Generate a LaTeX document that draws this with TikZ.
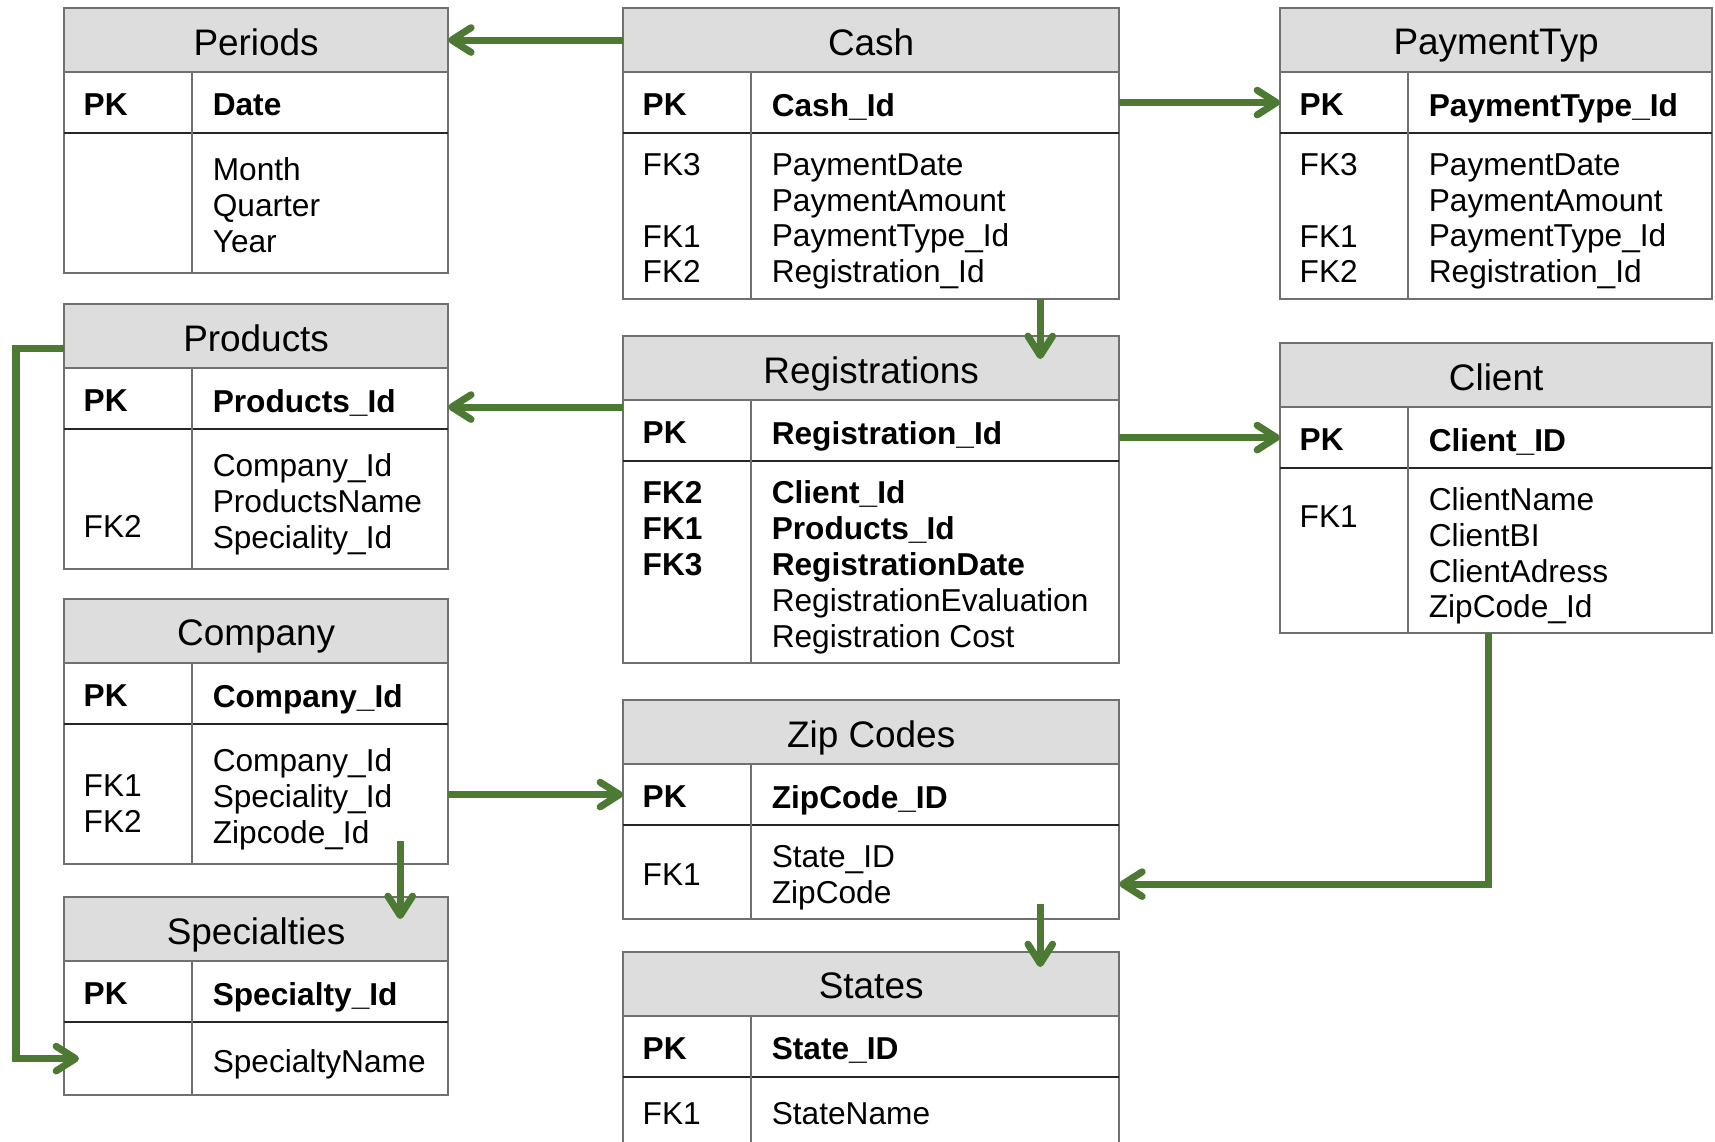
\documentclass[tikz,border=0pt]{standalone}
\usepackage{fontspec}
\setmainfont{Liberation Sans}
\usetikzlibrary{arrows.meta}
\definecolor{linkgreen}{RGB}{76,122,51}
\definecolor{hdrgray}{RGB}{221,221,221}
\definecolor{framegray}{RGB}{112,112,112}
\newcommand\tabfont{\fontsize{9}{10.2}\selectfont}
\newcommand\hdrfont{\fontsize{10.5}{12.6}\selectfont}
% #1 name, #2 top left corner, #3 width, #4 body height, #5 title,
% #6 key field, #7 key column, #8 field column
\newcommand\ertab[8]{%
    \node[hdr, minimum width=#3] (#1) at (#2) {};
    \node[txt, anchor=center, font=\hdrfont] (#1t) at (#1.center) {#5};
    \node[row, minimum width=#3, minimum height=0.61cm] (#1pk) at (#1.south west) {};
    \node[row, minimum width=#3, minimum height=#4] (#1bd) at (#1pk.south west) {};
    \draw[sep] (#1pk.south west) -- (#1pk.south east);
    \draw[frame] ([xshift=1.28cm]#1.south west) -- ([xshift=1.28cm]#1bd.south west);
    \node[txt, font=\tabfont\bfseries] (#1k1) at ([xshift=0.19cm]#1pk.west) {PK};
    \node[txt, font=\tabfont\bfseries] (#1f1) at ([xshift=1.48cm]#1pk.west) {#6};
    \node[txt] (#1k2) at ([xshift=0.19cm]#1bd.west) {#7};
    \node[txt] (#1f2) at ([xshift=1.48cm]#1bd.west) {#8};
}

\begin{document}
\begin{tikzpicture}[x=0.01cm, y=-0.01cm,
        frame/.style={draw=framegray, line width=0.6pt},
        sep/.style={draw=black!85, line width=0.6pt},
        row/.style={frame, fill=white, anchor=north west, inner sep=0pt, outer sep=0pt},
        hdr/.style={row, fill=hdrgray, minimum height=0.64cm},
        txt/.style={anchor=west, align=left, inner sep=0pt, font=\tabfont, yshift=-0.02cm,
            text depth=0pt, execute at begin node=\vphantom{H}},
        link/.style={draw=linkgreen, line width=2pt, -{Straight Barb[length=5.5pt, width=7pt, round]}}]
    \clip (0,0) rectangle (1715,1141);

    \begin{scope} % left column
        \ertab{periods}{64,8}{3.84cm}{1.40cm}{Periods}{Date}{}{Month\\Quarter\\Year}
        \ertab{products}{64,304}{3.84cm}{1.40cm}{Products}{Products\_Id}{~\\~\\FK2}{Company\_Id\\ProductsName\\Speciality\_Id}
        \ertab{company}{64,599}{3.84cm}{1.40cm}{Company}{Company\_Id}{~\\FK1\\FK2}{Company\_Id\\Speciality\_Id\\Zipcode\_Id}
        \ertab{specs}{64,897}{3.84cm}{0.73cm}{Specialties}{Specialty\_Id}{}{SpecialtyName}
    \end{scope}

    \begin{scope} % middle column
        \ertab{cash}{623,8}{4.96cm}{1.66cm}{Cash}{Cash\_Id}{FK3\\~\\FK1\\FK2}{PaymentDate\\PaymentAmount\\PaymentType\_Id\\Registration\_Id}
        \ertab{regs}{623,336}{4.96cm}{2.02cm}{Registrations}{Registration\_Id}{\textbf{FK2}\\\textbf{FK1}\\\textbf{FK3}\\~\\~}{\textbf{Client\_Id}\\\textbf{Products\_Id}\\\textbf{RegistrationDate}\\RegistrationEvaluation\\Registration Cost}
        \ertab{zip}{623,700}{4.96cm}{0.94cm}{Zip Codes}{ZipCode\_ID}{FK1}{State\_ID\\ZipCode}
        \ertab{states}{623,952}{4.96cm}{0.68cm}{States}{State\_ID}{FK1}{StateName}
    \end{scope}

    \begin{scope} % right column
        \ertab{paytyp}{1280,8}{4.32cm}{1.66cm}{PaymentTyp}{PaymentType\_Id}{FK3\\~\\FK1\\FK2}{PaymentDate\\PaymentAmount\\PaymentType\_Id\\Registration\_Id}
        \ertab{client}{1280,343}{4.32cm}{1.65cm}{Client}{Client\_ID}{FK1\\~\\~}{ClientName\\ClientBI\\ClientAdress\\ZipCode\_Id}
    \end{scope}

    \coordinate (r2p) at ([yshift=-0.07cm]regs.south west);
    \coordinate (c2z) at ([yshift=-0.12cm]zipbd.east);
    \draw[link] (cash.west) -- (periods.east);
    \draw[link] (cashpk.east) -- (paytyppk.west);
    \draw[link] ([xshift=-0.79cm]cashbd.south east) -- ([xshift=-0.79cm, yshift=-0.23cm]regs.north east);
    \draw[link] (r2p) -- (r2p -| productspk.east);
    \draw[link] (clientpk.west -| regspk.east) -- (clientpk.west);
    \draw[link] ([xshift=2.08cm]clientbd.south west) |- (c2z);
    \draw[link] ([xshift=-0.79cm, yshift=0.15cm]zipbd.south east) -- ([xshift=-0.79cm, yshift=-0.15cm]states.north east);
    \draw[link] (zippk.west -| companybd.east) -- (zippk.west);
    \draw[link] ([xshift=-0.48cm, yshift=0.23cm]companybd.south east) -- ([xshift=-0.48cm, yshift=-0.22cm]specs.north east);
    \draw[link] ([yshift=-0.12cm]products.west) -- ++(-48,0) |- ([xshift=0.15cm]specsbd.west);
\end{tikzpicture}
\end{document}
